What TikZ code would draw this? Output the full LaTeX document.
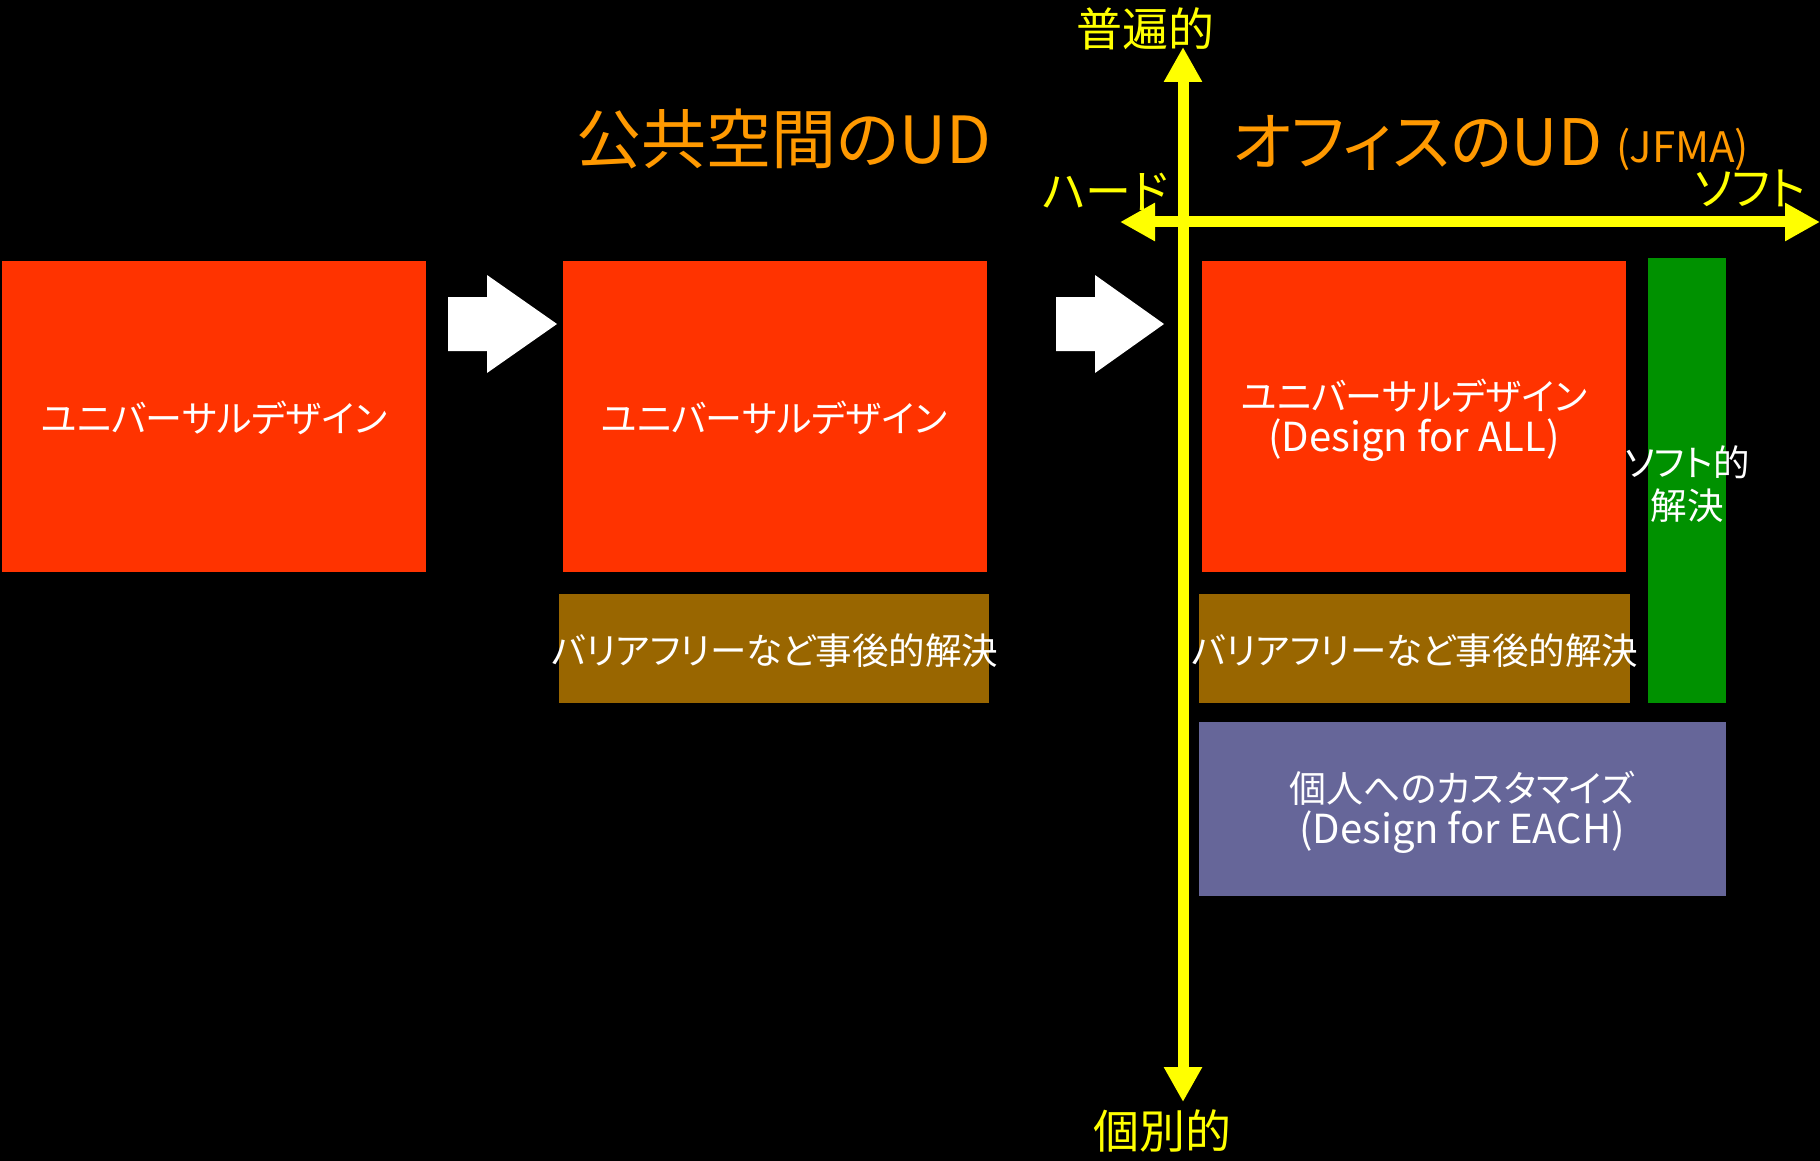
\documentclass[tikz,border=0pt]{standalone}
\usepackage{fontspec}
\setmainfont{Noto Sans CJK JP}[RawFeature=+palt]
\usetikzlibrary{arrows.meta}
\definecolor{udred}{HTML}{FF3300}
\definecolor{udbrown}{HTML}{996600}
\definecolor{udgreen}{HTML}{009100}
\definecolor{udpurple}{HTML}{666699}
\definecolor{udorange}{HTML}{FF9900}
\definecolor{udyellow}{HTML}{FFFF00}
\newcommand{\latinsize}{\fontsize{40}{41}\selectfont}
\begin{document}
\begin{tikzpicture}[x=1pt,y=-1pt,
  box/.style={rectangle, inner sep=0pt, outer sep=0pt, draw=none, fill=#1},
  txt/.style={inner sep=0pt, text=white, align=center, font=\fontsize{37}{41}\selectfont},
  ytxt/.style={inner sep=0pt, text=udyellow, font=\fontsize{46}{46}\selectfont},
  otitle/.style={inner sep=0pt, text=udorange, font=\fontsize{65}{65}\selectfont},
  axis/.style={draw=udyellow, line width=11pt},
  tip/.tip={Triangle[length=35pt,width=36pt]},
  blockarrow/.style={fill=white}
]
\useasboundingbox (0,0) rectangle (1820,1161);
\fill[black] (0,0) rectangle (1820,1161);

% left column
\node[box=udred, minimum width=424pt, minimum height=311pt] (b1) at (214,416.5) {};
\node[txt] (t1) at (214,418) {ユニバーサルデザイン};

% first block arrow
\fill[blockarrow] (448,297) -- (487,297) -- (487,275) -- (557,324) -- (487,373) -- (487,351) -- (448,351) -- cycle;

% middle column
\node[otitle, anchor=base] (title1) at (784,164) {公共空間のUD};
\node[box=udred, minimum width=424pt, minimum height=311pt] (b2) at (775,416.5) {};
\node[txt] (t2) at (774,418) {ユニバーサルデザイン};
\node[box=udbrown, minimum width=430pt, minimum height=109pt] (br2) at (774,648.5) {};
\node[txt, font=\fontsize{36.5}{41}\selectfont] (tbr2) at (775,651) {バリアフリーなど事後的解決};

% second block arrow
\fill[blockarrow] (1056,297) -- (1095,297) -- (1095,275) -- (1164,324) -- (1095,373) -- (1095,351) -- (1056,351) -- cycle;

% axes
\coordinate (vtop) at (1183,47);
\coordinate (vbot) at (1183,1102);
\coordinate (hl) at (1120,222);
\coordinate (hr) at (1820,222);
\draw[axis, tip-tip] (vtop) -- (vbot);
\draw[axis, tip-tip] (hl) -- (hr);
\node[ytxt] (up) at (1145,29) {普遍的};
\node[ytxt] (down) at (1162,1131) {個別的};
\node[ytxt] (hard) at (1105,192) {ハード};
\node[ytxt] (soft) at (1750,188) {ソフト};

% right column
\node[otitle, font=\fontsize{64}{64}\selectfont, anchor=base west] (title2) at (1232,166) {オフィスのUD};
\node[inner sep=0pt, text=udorange, font=\fontsize{42}{42}\selectfont, anchor=base west] (jfma) at (1616,163) {(JFMA)};
\node[box=udred, minimum width=424pt, minimum height=311pt] (b3) at (1414,416.5) {};
\node[txt] (t3) at (1414,420) {ユニバーサルデザイン\\{\latinsize (Design for ALL)}};
\node[box=udgreen, minimum width=78pt, minimum height=445pt] (g3) at (1687,480.5) {};
\node[txt, font=\fontsize{36.5}{43}\selectfont] (tg3) at (1687,484) {ソフト的\\解決};
\node[box=udbrown, minimum width=431pt, minimum height=109pt] (br3) at (1414.5,648.5) {};
\node[txt, font=\fontsize{36.5}{41}\selectfont] (tbr3) at (1415,651) {バリアフリーなど事後的解決};
\node[box=udpurple, minimum width=527pt, minimum height=174pt] (p3) at (1462.5,809) {};
\node[txt] (tp3) at (1462,812) {個人へのカスタマイズ\\{\latinsize (Design for EACH)}};
\end{tikzpicture}
\end{document}
